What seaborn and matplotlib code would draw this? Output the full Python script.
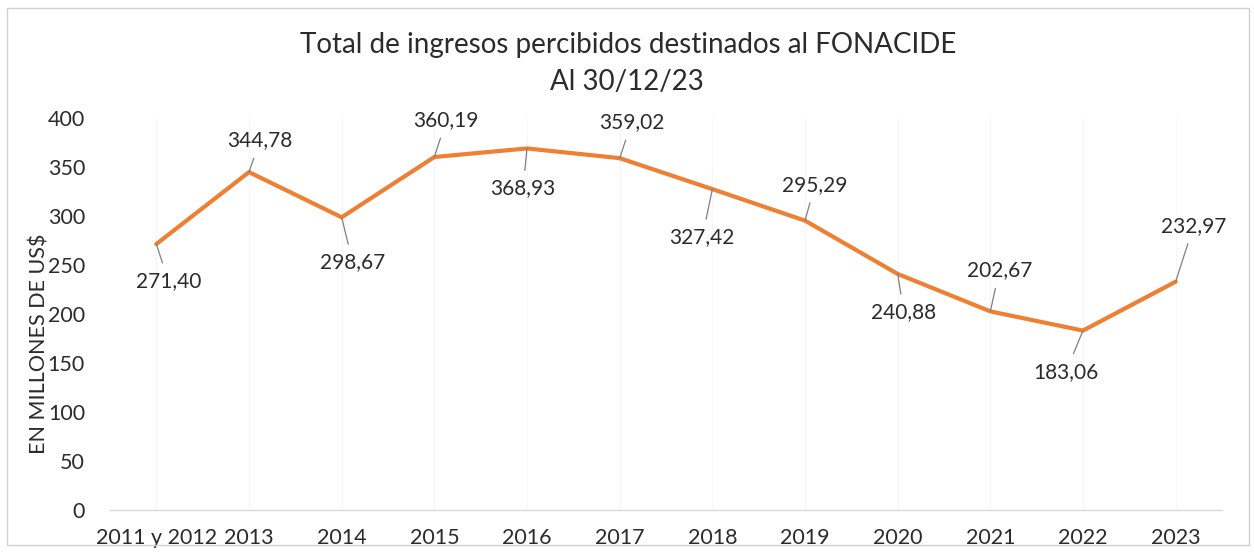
import matplotlib
matplotlib.use("Agg")
import matplotlib.pyplot as plt
import seaborn as sns
import pandas as pd
import numpy as np
from matplotlib.patches import Rectangle

# ---- data ----
categories = ["2011 y 2012", "2013", "2014", "2015", "2016", "2017",
              "2018", "2019", "2020", "2021", "2022", "2023"]
values = [271.40, 344.78, 298.67, 360.19, 368.93, 359.02,
          327.42, 295.29, 240.88, 202.67, 183.06, 232.97]
title_line1 = "Total de ingresos percibidos destinados al FONACIDE"
title_line2 = "Al 30/12/23"
y_label = "EN MILLONES DE US$"
y_ticks = [0, 50, 100, 150, 200, 250, 300, 350, 400]

# label offsets in pixels (layout only)
label_offsets = [(12, -37), (11, 32), (11, -45), (12, 37), (-4, -40), (12, 36),
                 (-10, -48), (10, 36), (6, -38), (9, 41), (-17, -41), (18, 56)]

sns.set_theme(style="white")
plt.rcParams["font.family"] = ["Lato", "DejaVu Sans"]

W, H = 1254, 555
fig = plt.figure(figsize=(W / 100, H / 100), dpi=100)
fig.patch.set_facecolor("white")
ax = fig.add_axes([110 / W, 1 - 510 / H, (1222 - 110) / W, (510 - 118) / H])

df = pd.DataFrame({"cat": categories, "val": values})
sns.lineplot(data=df, x="cat", y="val", ax=ax, color="#EF7F32", lw=3.0,
             sort=False, solid_capstyle="round", zorder=3)

ax.set_xlim(-0.5, len(categories) - 0.5)
ax.set_ylim(0, 400)
ax.set_yticks(y_ticks)
ax.set_yticklabels([str(t) for t in y_ticks])
ax.set_xlabel("")
ax.set_ylabel("")
ax.tick_params(axis="y", length=0, pad=18, labelsize=15.5, labelcolor="#2b2b2b")
ax.tick_params(axis="x", length=0, pad=13, labelsize=15.5, labelcolor="#2b2b2b")
for s in ["top", "right", "left"]:
    ax.spines[s].set_visible(False)
ax.spines["bottom"].set_color("#d9d9d9")
ax.spines["bottom"].set_linewidth(1)
ax.grid(axis="x", color="#f6f6f6", lw=1)
ax.grid(axis="y", visible=False)

# data labels with leader lines
for i, (v, (dx, dy)) in enumerate(zip(values, label_offsets)):
    lab = f"{v:.2f}".replace(".", ",")
    ax.annotate(lab, xy=(i, v), xytext=(dx, dy), textcoords="offset pixels",
                ha="center", va="center", fontsize=15, color="#2b2b2b", zorder=5)
    f = 1 - 18 / abs(dy)
    ax.annotate("", xy=(i, v), xytext=(dx * f, dy * f), textcoords="offset pixels",
                arrowprops=dict(arrowstyle="-", color="#7f7f7f", lw=0.9,
                                shrinkA=0, shrinkB=0), zorder=4)

# titles and axis label
fig.text(628 / W, 1 - 45 / H, title_line1, ha="center", va="center",
         fontsize=20, color="#2b2b2b")
fig.text(627 / W, 1 - 82 / H, title_line2, ha="center", va="center",
         fontsize=20, color="#2b2b2b")
fig.text(40 / W, 1 - 344 / H, y_label, rotation=90, ha="center", va="center",
         fontsize=15.5, color="#2b2b2b")

# chart border
fig.patches.append(Rectangle((7 / W, 1 - 545 / H), (1249 - 7) / W, (545 - 8) / H,
                             transform=fig.transFigure, fill=False,
                             edgecolor="#d0d0d0", lw=1))

fig.savefig("out.png", dpi=100)
